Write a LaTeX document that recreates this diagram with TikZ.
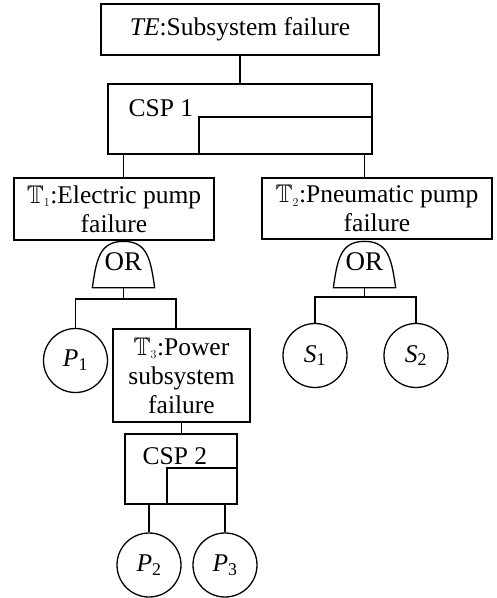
\documentclass[tikz,border=0pt]{standalone}
\usepackage{fontspec}
\setmainfont{Liberation Serif}
\usepackage{amssymb}
\newcommand\treefont{\fontsize{25.5}{29}\selectfont}
\newcommand\gatefont{\fontsize{27}{30}\selectfont}
% blackboard T with a small index
\newcommand\bbT[1]{$\mathbb{T}_{\scriptscriptstyle #1}$}
\begin{document}
\begin{tikzpicture}[x=1pt, y=-1pt, line width=1.3pt,
  box/.style={draw, rectangle, inner sep=0pt, align=center, font=\treefont},
  event/.style={draw, circle, inner sep=0pt, minimum size=64pt, font=\treefont},
  gate/.style={rectangle, inner sep=0pt, minimum width=61pt, minimum height=45pt, font=\gatefont},
  lbl/.style={inner sep=0pt, font=\treefont}]
\useasboundingbox (0,0) rectangle (497,598);

% OR gate outline: flat base, domed top
\newcommand\ordome[1]{%
  \draw (#1.south west) .. controls +(4,-28) and +(-24,0) .. (#1.north)
        .. controls +(24,0) and +(-4,-28) .. (#1.south east) -- cycle;}

% top event
\node[box, minimum width=278pt, minimum height=51pt] (te) at (240,29.5)
  {\textit{TE}:Subsystem failure};

% CSP 1 gate
\node[box, minimum width=264pt, minimum height=70pt] (csp1) at (240,119) {};
\node[lbl, anchor=base west] (csp1l) at (128,116) {CSP 1};
\coordinate (k1) at (199,117);
\draw (csp1.east |- k1) -- (k1) -- (k1 |- csp1.south);
\draw (te.south) -- (csp1.north);

% intermediate events
\node[box, minimum width=200pt, minimum height=62pt] (t1) at (114,209)
  {\bbT{1}:Electric pump\\failure};
\node[box, minimum width=230pt, minimum height=61pt] (t2) at (377,208.5)
  {\bbT{2}:Pneumatic pump\\failure};

% OR gates
\node[gate] (or1) at (123.5,264.5) {};
\ordome{or1}
\node[lbl, font=\gatefont] at ([yshift=3pt]or1.center) {OR};
\node[gate] (or2) at (364.5,264.5) {};
\ordome{or2}
\node[lbl, font=\gatefont] at ([yshift=3pt]or2.center) {OR};

\draw (csp1.south -| or1) -- (t1.north -| or1);
\draw (csp1.south -| or2) -- (t2.north -| or2);

% left branch
\node[event] (p1) at (75.5,360.5) {\textit{P}\textsubscript{1}};
\node[box, minimum width=137pt, minimum height=93pt] (t3) at (181.5,375.5)
  {\bbT{3}:Power\\subsystem\\failure};
\coordinate (b1) at (123.5,299);
\coordinate (t3in) at (176,0);
\draw (or1.south) -- (b1);
\draw (p1.north) |- (b1) -| (t3in |- t3.north);

% CSP 2 gate
\node[box, minimum width=112pt, minimum height=70pt] (csp2) at (181,469) {};
\node[lbl, anchor=base west] (csp2l) at (142,464) {CSP 2};
\coordinate (k2) at (167,468);
\draw (csp2.east |- k2) -- (k2) -- (k2 |- csp2.south);
\draw (t3.south) -- (t3.south |- csp2.north);

\node[event] (p2) at (149,565) {\textit{P}\textsubscript{2}};
\node[event] (p3) at (225,565) {\textit{P}\textsubscript{3}};
\draw (p2.north) -- (p2.north |- csp2.south);
\draw (p3.north) -- (p3.north |- csp2.south);

% right branch
\node[event] (s1) at (315,355.5) {\textit{S}\textsubscript{1}};
\node[event] (s2) at (416,355.5) {\textit{S}\textsubscript{2}};
\coordinate (b2) at (364.5,297);
\draw (or2.south) -- (b2);
\draw (s1.north) |- (b2) -| (s2.north);
\end{tikzpicture}
\end{document}
